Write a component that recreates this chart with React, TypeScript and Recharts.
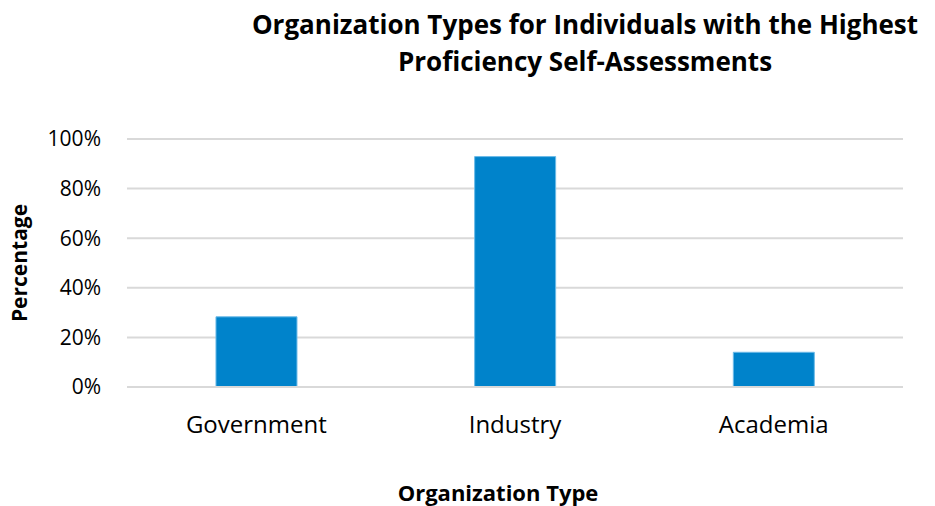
import { BarChart, Bar, XAxis, YAxis, CartesianGrid } from 'recharts';

const categories = ['Government', 'Industry', 'Academia'];
const percentages = [28.3, 92.9, 14.0];
const yTicks = [0, 20, 40, 60, 80, 100];

const data = categories.map((name, i) => ({ name, value: percentages[i] }));

const FONT = '"Open Sans", "Noto Sans", sans-serif';

export default function App() {
  return (
    <div style={{ position: 'absolute', left: 0, top: 0, width: 935, height: 506, background: '#fff', fontFamily: FONT }}>
      <div
        style={{
          position: 'absolute',
          left: 235,
          width: 700,
          top: 6,
          textAlign: 'center',
          fontWeight: 700,
          fontSize: 26,
          lineHeight: '37px',
          color: '#000',
        }}
      >
        Organization Types for Individuals with the Highest
        <br />
        Proficiency Self-Assessments
      </div>
      <BarChart
        width={935}
        height={506}
        data={data}
        margin={{ top: 139, right: 32, bottom: 89, left: 67 }}
        barCategoryGap="34.4%"
      >
        <CartesianGrid vertical={false} stroke="#d9d9d9" strokeWidth={2} />
        <XAxis
          dataKey="name"
          height={30}
          axisLine={{ stroke: '#d9d9d9', strokeWidth: 2 }}
          tickLine={false}
          tickSize={0}
          tickMargin={29}
          tick={{ fill: '#000', fontSize: 24, fontFamily: FONT }}
        />
        <YAxis
          width={60}
          domain={[0, 100]}
          ticks={yTicks}
          tickFormatter={(v: number) => `${v}%`}
          axisLine={false}
          tickLine={false}
          tickSize={0}
          tickMargin={26}
          tick={{ fill: '#000', fontSize: 21, fontFamily: FONT }}
        />
        <Bar dataKey="value" fill="#0083cb" stroke="#6cbbe8" strokeWidth={1} isAnimationActive={false} />
      </BarChart>
      <div
        style={{
          position: 'absolute',
          left: 298,
          width: 400,
          top: 480,
          textAlign: 'center',
          fontWeight: 700,
          fontSize: 22,
          lineHeight: '25px',
          color: '#000',
        }}
      >
        Organization Type
      </div>
      <div
        style={{
          position: 'absolute',
          left: 19,
          top: 263,
          transform: 'translate(-50%, -50%) rotate(-90deg)',
          fontWeight: 700,
          fontSize: 21,
          color: '#000',
          whiteSpace: 'nowrap',
        }}
      >
        Percentage
      </div>
    </div>
  );
}
